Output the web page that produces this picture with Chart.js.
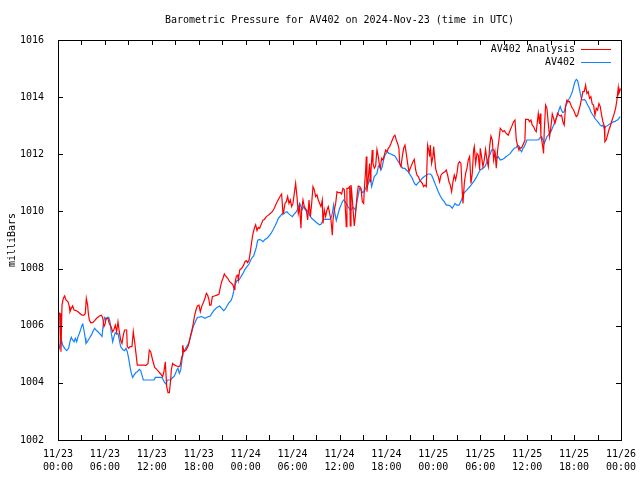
<!DOCTYPE html>
<html>
<head>
<meta charset="utf-8">
<title>Barometric Pressure AV402</title>
<script src="https://cdn.jsdelivr.net/npm/chart.js@4/dist/chart.umd.min.js"></script>
<style>
  html, body { margin: 0; padding: 0; background: #fff; }
  canvas { display: block; }
</style>
</head>
<body>
<canvas id="pressureChart" width="640" height="480"></canvas>
<script>
// ---- Data (hours since 11/23 00:00 UTC, pressure in mb) ----
const chartTitle = 'Barometric Pressure for AV402 on 2024-Nov-23 (time in UTC)';
const tickDates = ['11/23', '11/23', '11/23', '11/23', '11/24', '11/24', '11/24', '11/24', '11/25', '11/25', '11/25', '11/25', '11/26'];
const tickTimes = ['00:00', '06:00', '12:00', '18:00', '00:00', '06:00', '12:00', '18:00', '00:00', '06:00', '12:00', '18:00', '00:00'];

const analysisHours = [
  0.00, 0.10, 0.26, 0.38, 0.51, 0.68, 0.85, 1.02, 1.28, 1.45, 1.53, 1.70, 1.87, 2.05, 2.30, 2.56, 2.81, 3.07, 3.32, 3.49,
  3.62, 3.79, 3.88, 4.01, 4.18, 4.43, 4.69, 4.94, 5.29, 5.54, 5.71, 5.88, 6.05, 6.14, 6.39, 6.56, 6.78, 6.99, 7.16, 7.33,
  7.50, 7.67, 7.84, 8.01, 8.18, 8.35, 8.52, 8.78, 8.86, 9.04, 9.21, 9.46, 9.63, 9.80, 9.97, 10.14, 10.66, 10.91, 11.25, 11.51,
  11.68, 11.85, 12.10, 12.36, 12.62, 12.87, 13.13, 13.38, 13.55, 13.72, 13.90, 14.07, 14.24, 14.41, 14.49, 14.66, 14.92, 15.17, 15.43, 15.60,
  15.86, 15.94, 16.11, 16.37, 16.62, 16.79, 16.96, 17.13, 17.30, 17.48, 17.65, 17.82, 18.03, 18.20, 18.37, 18.63, 18.80, 18.97, 19.14, 19.31,
  19.40, 19.57, 19.74, 19.99, 20.33, 20.59, 20.76, 20.93, 21.10, 21.27, 21.44, 21.70, 21.95, 22.21, 22.38, 22.55, 22.63, 22.81, 22.98, 23.06,
  23.23, 23.49, 23.74, 23.91, 24.08, 24.25, 24.43, 24.60, 24.77, 24.94, 25.11, 25.28, 25.45, 25.62, 25.79, 25.96, 26.22, 26.39, 26.64, 26.90,
  27.15, 27.41, 27.66, 27.92, 28.18, 28.43, 28.60, 28.77, 28.86, 29.03, 29.20, 29.37, 29.54, 29.71, 29.88, 30.05, 30.22, 30.39, 30.56, 30.73,
  30.90, 31.07, 31.16, 31.33, 31.50, 31.76, 31.93, 32.10, 32.27, 32.44, 32.61, 32.78, 32.95, 33.12, 33.29, 33.46, 33.63, 33.80, 33.89, 34.06,
  34.23, 34.40, 34.57, 34.74, 34.91, 35.08, 35.17, 35.34, 35.51, 35.68, 35.85, 36.10, 36.27, 36.44, 36.61, 36.78, 36.87, 36.95, 37.12, 37.30,
  37.38, 37.47, 37.55, 37.72, 37.89, 38.06, 38.23, 38.40, 38.57, 38.74, 38.92, 39.09, 39.17, 39.34, 39.43, 39.51, 39.68, 39.85, 39.94, 40.02,
  40.19, 40.28, 40.45, 40.62, 40.79, 40.96, 41.13, 41.22, 41.39, 41.56, 41.73, 41.90, 42.07, 42.24, 42.41, 42.58, 42.75, 42.92, 43.09, 43.26,
  43.43, 43.60, 43.69, 43.86, 44.03, 44.20, 44.37, 44.54, 44.71, 44.88, 45.05, 45.22, 45.39, 45.56, 45.74, 45.91, 46.08, 46.25, 46.42, 46.59,
  46.76, 46.93, 47.10, 47.27, 47.44, 47.53, 47.61, 47.78, 47.95, 48.04, 48.12, 48.29, 48.46, 48.63, 48.80, 48.97, 49.15, 49.32, 49.49, 49.66,
  49.83, 50.00, 50.17, 50.34, 50.51, 50.68, 50.85, 51.02, 51.19, 51.36, 51.53, 51.70, 51.79, 51.96, 52.13, 52.30, 52.47, 52.64, 52.81, 52.98,
  53.15, 53.24, 53.41, 53.58, 53.75, 53.92, 54.00, 54.17, 54.34, 54.51, 54.68, 54.85, 55.03, 55.20, 55.37, 55.54, 55.71, 55.88, 56.05, 56.22,
  56.39, 56.56, 56.73, 56.90, 57.07, 57.24, 57.41, 57.58, 57.75, 57.92, 58.09, 58.26, 58.44, 58.61, 58.78, 58.95, 59.03, 59.20, 59.37, 59.54,
  59.71, 59.80, 59.97, 60.14, 60.31, 60.48, 60.65, 60.82, 60.99, 61.16, 61.33, 61.42, 61.59, 61.67, 61.76, 61.93, 62.10, 62.19, 62.36, 62.53,
  62.70, 62.87, 63.04, 63.21, 63.38, 63.55, 63.72, 63.89, 64.06, 64.23, 64.40, 64.57, 64.74, 64.91, 65.08, 65.26, 65.43, 65.60, 65.77, 65.94,
  66.11, 66.28, 66.45, 66.62, 66.79, 66.96, 67.13, 67.30, 67.47, 67.64, 67.81, 67.98, 68.15, 68.32, 68.49, 68.67, 68.84, 69.01, 69.18, 69.35,
  69.52, 69.69, 69.86, 69.94, 70.11, 70.28, 70.45, 70.62, 70.79, 70.97, 71.14, 71.31, 71.48, 71.65, 71.73, 71.95
];
const analysisMb = [
  1005.20, 1006.45, 1006.43, 1005.09, 1006.72, 1006.96, 1007.04, 1006.90, 1006.84, 1006.67, 1006.49, 1006.61, 1006.69, 1006.55, 1006.53, 1006.49, 1006.43, 1006.37, 1006.37, 1006.43,
  1006.96, 1006.72, 1006.43, 1006.20, 1006.11, 1006.11, 1006.18, 1006.26, 1006.34, 1006.37, 1006.29, 1005.97, 1006.08, 1006.26, 1006.26, 1006.08, 1005.97, 1005.79, 1005.87, 1006.02,
  1005.79, 1006.14, 1005.79, 1005.50, 1005.38, 1005.67, 1005.85, 1005.85, 1005.27, 1005.21, 1005.27, 1005.27, 1005.79, 1005.44, 1005.03, 1004.62, 1004.62, 1004.62, 1004.61, 1004.68,
  1005.15, 1005.09, 1004.80, 1004.54, 1004.47, 1004.39, 1004.31, 1004.22, 1004.39, 1004.74, 1003.87, 1003.66, 1003.66, 1004.10, 1004.45, 1004.68, 1004.62, 1004.59, 1004.57, 1004.59,
  1004.94, 1005.32, 1005.09, 1005.15, 1005.27, 1005.44, 1005.67, 1005.85, 1006.08, 1006.37, 1006.55, 1006.69, 1006.72, 1006.49, 1006.67, 1006.84, 1006.96, 1007.13, 1007.07, 1006.90,
  1006.72, 1006.72, 1007.02, 1007.04, 1007.07, 1007.11, 1007.34, 1007.54, 1007.66, 1007.81, 1007.74, 1007.66, 1007.54, 1007.48, 1007.42, 1007.27, 1007.48, 1007.74, 1007.77, 1007.60,
  1007.95, 1008.01, 1008.12, 1008.24, 1008.28, 1008.21, 1008.30, 1008.59, 1008.94, 1009.23, 1009.41, 1009.53, 1009.33, 1009.44, 1009.41, 1009.53, 1009.70, 1009.72, 1009.82, 1009.87,
  1009.93, 1009.99, 1010.11, 1010.28, 1010.42, 1010.54, 1010.61, 1009.93, 1009.99, 1010.28, 1010.34, 1010.52, 1010.28, 1010.40, 1010.17, 1010.28, 1010.63, 1010.98, 1010.52, 1009.93,
  1010.17, 1009.41, 1010.05, 1010.40, 1010.17, 1010.05, 1009.70, 1010.40, 1009.82, 1010.28, 1010.87, 1010.75, 1010.52, 1010.58, 1010.40, 1010.28, 1010.17, 1010.40, 1009.58, 1010.05,
  1009.82, 1010.05, 1010.17, 1009.93, 1009.70, 1009.17, 1009.70, 1010.05, 1010.28, 1010.69, 1010.66, 1010.66, 1010.61, 1010.81, 1010.77, 1009.93, 1009.47, 1010.81, 1010.81, 1010.87,
  1009.49, 1010.92, 1010.75, 1010.11, 1009.49, 1009.93, 1010.52, 1010.89, 1010.87, 1010.81, 1010.34, 1010.28, 1010.75, 1011.45, 1011.92, 1010.69, 1011.16, 1011.68, 1011.04, 1011.39,
  1012.15, 1011.68, 1011.51, 1011.59, 1012.17, 1011.92, 1011.57, 1011.51, 1011.86, 1011.80, 1011.97, 1012.15, 1012.09, 1012.21, 1012.27, 1012.38, 1012.50, 1012.62, 1012.67, 1012.50,
  1012.38, 1012.21, 1011.68, 1011.57, 1011.92, 1012.21, 1012.32, 1012.03, 1011.68, 1011.39, 1011.51, 1011.62, 1011.74, 1011.82, 1011.45, 1011.27, 1011.22, 1011.10, 1011.04, 1010.98,
  1010.87, 1010.92, 1010.87, 1012.32, 1012.09, 1011.92, 1012.32, 1011.68, 1011.92, 1012.27, 1012.03, 1011.51, 1011.33, 1011.22, 1011.04, 1011.27, 1011.33, 1011.36, 1011.39, 1011.45,
  1011.27, 1011.04, 1010.92, 1010.69, 1011.04, 1011.27, 1011.10, 1011.33, 1011.68, 1011.74, 1011.68, 1010.69, 1010.28, 1010.98, 1011.33, 1011.51, 1011.80, 1011.92, 1010.98, 1011.33,
  1012.15, 1012.27, 1011.68, 1012.03, 1011.97, 1011.45, 1012.21, 1011.92, 1011.57, 1011.80, 1012.17, 1011.80, 1011.57, 1012.27, 1012.64, 1012.50, 1011.80, 1012.09, 1011.51, 1012.15,
  1012.50, 1012.91, 1012.85, 1012.79, 1012.83, 1012.76, 1012.71, 1012.67, 1012.79, 1012.91, 1013.02, 1013.14, 1013.20, 1012.50, 1012.29, 1012.15, 1012.24, 1012.21, 1012.27, 1012.38,
  1012.48, 1013.22, 1013.22, 1013.22, 1013.14, 1013.20, 1013.02, 1012.97, 1012.85, 1012.79, 1013.20, 1013.43, 1013.06, 1013.43, 1012.64, 1012.38, 1012.03, 1012.85, 1013.72, 1013.61,
  1013.08, 1012.62, 1012.97, 1013.41, 1013.26, 1013.08, 1013.26, 1013.43, 1013.37, 1013.34, 1013.37, 1013.14, 1013.02, 1013.67, 1013.90, 1013.84, 1013.84, 1013.72, 1013.61, 1013.55,
  1013.43, 1013.32, 1013.37, 1013.55, 1013.72, 1013.96, 1014.19, 1014.19, 1014.42, 1014.13, 1014.19, 1013.96, 1014.02, 1013.76, 1013.72, 1013.37, 1013.61, 1013.55, 1013.78, 1013.67,
  1013.37, 1013.14, 1012.99, 1012.44, 1012.50, 1012.67, 1012.85, 1012.97, 1013.14, 1013.29, 1013.43, 1013.61, 1013.90, 1014.34, 1014.13, 1014.30
];

const stationHours = [
  0.00, 0.08, 0.26, 0.43, 0.60, 0.85, 1.11, 1.36, 1.53, 1.70, 1.87, 2.05, 2.22, 2.39, 2.56, 2.73, 2.90, 3.07, 3.15, 3.32,
  3.49, 3.58, 3.75, 4.01, 4.26, 4.52, 4.69, 4.86, 5.11, 5.37, 5.63, 5.80, 5.97, 6.14, 6.31, 6.48, 6.65, 6.82, 6.99, 7.16,
  7.33, 7.50, 7.67, 7.84, 8.01, 8.27, 8.52, 8.70, 8.86, 9.04, 9.21, 9.38, 9.55, 9.72, 9.97, 10.14, 10.40, 10.57, 10.74, 10.91,
  12.28, 12.45, 13.30, 13.47, 13.64, 13.81, 13.98, 14.41, 14.58, 14.83, 15.00, 15.17, 15.34, 15.51, 15.69, 15.86, 16.03, 16.20, 16.45, 16.71,
  16.96, 17.13, 17.30, 17.56, 17.82, 18.37, 18.80, 19.23, 19.48, 19.74, 19.99, 20.33, 20.67, 20.93, 21.19, 21.36, 21.61, 21.87, 22.12, 22.29,
  22.46, 22.55, 22.72, 22.89, 23.15, 23.40, 23.66, 23.91, 24.17, 24.43, 24.68, 24.85, 25.02, 25.19, 25.36, 25.53, 25.70, 25.96, 26.22, 26.47,
  26.73, 26.98, 27.24, 27.49, 27.75, 28.01, 28.18, 28.43, 28.69, 28.86, 29.03, 29.28, 29.45, 29.71, 29.97, 30.22, 30.48, 30.73, 30.90, 31.07,
  31.25, 31.42, 31.59, 31.84, 32.01, 32.18, 32.44, 32.69, 32.95, 33.21, 33.46, 33.63, 33.80, 33.97, 34.74, 34.91, 35.08, 35.25, 35.42, 35.59,
  35.85, 36.02, 36.19, 36.36, 36.53, 36.70, 36.87, 37.04, 37.21, 37.38, 37.55, 37.72, 37.89, 38.06, 38.23, 38.40, 38.57, 38.74, 38.92, 39.09,
  39.26, 39.43, 39.60, 39.77, 39.94, 40.11, 40.28, 40.45, 40.62, 40.79, 40.96, 41.13, 41.30, 41.47, 41.64, 41.81, 41.98, 42.15, 42.33, 42.58,
  42.84, 43.09, 43.35, 43.52, 43.69, 43.86, 44.12, 44.37, 44.54, 44.80, 45.05, 45.31, 45.48, 45.65, 45.82, 46.08, 46.33, 46.59, 46.84, 47.10,
  47.36, 47.61, 47.78, 47.95, 48.12, 48.29, 48.46, 48.63, 48.89, 49.15, 49.40, 49.66, 49.91, 50.17, 50.42, 50.59, 50.77, 51.02, 51.28, 51.45,
  51.62, 51.79, 51.96, 52.21, 52.47, 52.73, 52.98, 53.24, 53.49, 53.75, 54.00, 54.30, 54.60, 54.77, 54.94, 55.11, 55.28, 55.45, 55.62, 55.79,
  55.96, 56.13, 56.30, 56.56, 56.82, 57.07, 57.33, 57.58, 57.84, 58.09, 58.35, 58.61, 58.78, 58.95, 59.12, 59.29, 59.46, 59.63, 59.80, 59.97,
  60.57, 60.99, 61.33, 61.50, 61.67, 61.85, 62.02, 62.19, 62.36, 62.53, 62.70, 62.87, 63.04, 63.21, 63.38, 63.55, 63.72, 63.89, 64.06, 64.23,
  64.40, 64.57, 64.74, 64.91, 65.08, 65.26, 65.43, 65.60, 65.77, 65.94, 66.11, 66.28, 66.45, 66.62, 66.79, 66.96, 67.13, 67.30, 67.47, 67.64,
  67.81, 67.98, 68.15, 68.32, 68.49, 68.67, 68.84, 69.01, 69.18, 69.35, 69.52, 69.69, 69.86, 70.03, 70.20, 70.37, 70.54, 70.71, 70.88, 71.05,
  71.22, 71.39, 71.56, 71.73, 71.90
];
const stationMb = [
  1005.30, 1005.15, 1005.32, 1005.50, 1005.32, 1005.21, 1005.13, 1005.21, 1005.44, 1005.59, 1005.50, 1005.44, 1005.56, 1005.44, 1005.62, 1005.73, 1005.87, 1006.02, 1006.08, 1005.85,
  1005.56, 1005.38, 1005.44, 1005.56, 1005.67, 1005.83, 1005.91, 1005.85, 1005.79, 1005.71, 1005.62, 1006.08, 1006.29, 1006.22, 1006.29, 1006.29, 1006.14, 1005.73, 1005.44, 1005.62,
  1005.76, 1005.71, 1005.73, 1005.50, 1005.27, 1005.17, 1005.13, 1005.21, 1005.09, 1004.86, 1004.57, 1004.33, 1004.19, 1004.27, 1004.36, 1004.39, 1004.47, 1004.43, 1004.27, 1004.10,
  1004.10, 1004.19, 1004.19, 1004.10, 1004.01, 1003.96, 1004.10, 1004.10, 1004.16, 1004.22, 1004.31, 1004.43, 1004.51, 1004.33, 1004.45, 1004.80, 1005.09, 1005.15, 1005.27, 1005.38,
  1005.62, 1005.79, 1005.97, 1006.14, 1006.29, 1006.32, 1006.26, 1006.32, 1006.34, 1006.46, 1006.55, 1006.64, 1006.69, 1006.61, 1006.53, 1006.57, 1006.69, 1006.81, 1006.88, 1006.99,
  1007.19, 1007.34, 1007.48, 1007.58, 1007.60, 1007.72, 1007.83, 1007.97, 1008.07, 1008.16, 1008.32, 1008.39, 1008.44, 1008.59, 1008.74, 1008.98, 1009.02, 1009.00, 1008.94, 1009.02,
  1009.06, 1009.14, 1009.23, 1009.35, 1009.49, 1009.64, 1009.76, 1009.84, 1009.93, 1009.91, 1009.96, 1009.99, 1009.93, 1009.87, 1009.82, 1009.91, 1009.99, 1010.14, 1010.28, 1010.17,
  1010.07, 1010.17, 1010.07, 1009.99, 1010.05, 1009.87, 1009.76, 1009.70, 1009.64, 1009.58, 1009.53, 1009.55, 1009.64, 1009.72, 1009.72, 1009.76, 1009.93, 1010.23, 1009.93, 1009.68,
  1009.95, 1010.11, 1010.22, 1010.34, 1010.40, 1010.34, 1010.28, 1010.19, 1010.11, 1010.05, 1010.07, 1010.14, 1010.11, 1010.03, 1010.34, 1010.57, 1010.81, 1010.77, 1010.66, 1010.69,
  1010.75, 1010.87, 1010.92, 1011.04, 1011.16, 1010.87, 1011.04, 1011.22, 1011.27, 1011.33, 1011.57, 1011.62, 1011.45, 1011.57, 1011.80, 1011.97, 1012.03, 1012.09, 1012.03, 1012.01,
  1011.97, 1011.94, 1011.82, 1011.74, 1011.68, 1011.59, 1011.51, 1011.51, 1011.45, 1011.39, 1011.27, 1011.16, 1011.04, 1010.96, 1010.92, 1011.01, 1011.08, 1011.16, 1011.22, 1011.27,
  1011.31, 1011.31, 1011.27, 1011.16, 1011.04, 1010.92, 1010.81, 1010.69, 1010.54, 1010.42, 1010.34, 1010.22, 1010.22, 1010.19, 1010.11, 1010.19, 1010.28, 1010.22, 1010.22, 1010.31,
  1010.42, 1010.57, 1010.66, 1010.73, 1010.81, 1010.89, 1010.98, 1011.08, 1011.19, 1011.33, 1011.45, 1011.50, 1011.57, 1011.68, 1011.80, 1011.92, 1012.01, 1012.15, 1012.17, 1012.13,
  1011.97, 1011.86, 1011.92, 1011.80, 1011.82, 1011.86, 1011.92, 1011.97, 1012.03, 1012.13, 1012.21, 1012.24, 1012.32, 1012.29, 1012.15, 1012.09, 1012.21, 1012.27, 1012.38, 1012.50,
  1012.50, 1012.50, 1012.50, 1012.52, 1012.59, 1012.62, 1012.50, 1012.38, 1012.50, 1012.62, 1012.67, 1012.73, 1012.79, 1012.91, 1013.02, 1013.14, 1013.26, 1013.37, 1013.55, 1013.67,
  1013.53, 1013.46, 1013.49, 1013.67, 1013.78, 1013.90, 1013.96, 1014.07, 1014.19, 1014.37, 1014.54, 1014.62, 1014.58, 1014.37, 1014.13, 1013.92, 1013.90, 1013.92, 1013.88, 1013.78,
  1013.69, 1013.61, 1013.49, 1013.41, 1013.34, 1013.26, 1013.20, 1013.14, 1013.08, 1013.02, 1012.99, 1013.02, 1012.91, 1012.97, 1012.99, 1013.02, 1013.06, 1013.08, 1013.11, 1013.14,
  1013.14, 1013.18, 1013.20, 1013.26, 1013.32
];

const FONT = "'DejaVu Sans Mono', 'Liberation Mono', monospace";
Chart.defaults.font.family = FONT;
Chart.defaults.font.size = 10;
Chart.defaults.color = '#000';

function toPoints(xs, ys) {
  return xs.map((x, i) => ({ x, y: ys[i] }));
}

// ---- Frame, inside ticks, title and gnuplot-style legend ----
const framePlugin = {
  id: 'frame',
  afterDraw(chart) {
    const { ctx, chartArea: a, scales: { x, y } } = chart;
    ctx.save();
    ctx.strokeStyle = '#000';
    ctx.lineWidth = 1;
    ctx.strokeRect(Math.round(a.left) + 0.5, Math.round(a.top) + 0.5,
      Math.round(a.right - a.left), Math.round(a.bottom - a.top));

    ctx.beginPath();
    for (let h = 3; h < 72; h += 3) {
      const px = Math.round(x.getPixelForValue(h)) + 0.5;
      ctx.moveTo(px, a.bottom); ctx.lineTo(px, a.bottom - 5);
      ctx.moveTo(px, a.top); ctx.lineTo(px, a.top + 5);
    }
    for (let v = 1004; v < 1016; v += 2) {
      const py = Math.round(y.getPixelForValue(v)) + 0.5;
      ctx.moveTo(a.left, py); ctx.lineTo(a.left + 5, py);
      ctx.moveTo(a.right, py); ctx.lineTo(a.right - 5, py);
    }
    ctx.stroke();

    ctx.fillStyle = '#000';
    ctx.font = '10px ' + FONT;
    ctx.textAlign = 'center';
    ctx.textBaseline = 'middle';
    ctx.fillText(chartTitle, (a.left + a.right) / 2, 20);

    ctx.textAlign = 'right';
    chart.data.datasets.forEach((ds, i) => {
      const ly = 49 + i * 13;
      ctx.fillText(ds.label, a.right - 46, ly);
      ctx.strokeStyle = ds.borderColor;
      ctx.beginPath();
      ctx.moveTo(a.right - 40, ly + 0.5);
      ctx.lineTo(a.right - 10, ly + 0.5);
      ctx.stroke();
    });
    ctx.restore();
  }
};

new Chart(document.getElementById('pressureChart'), {
  type: 'line',
  data: {
    datasets: [
      { label: 'AV402 Analysis', data: toPoints(analysisHours, analysisMb), borderColor: '#ff0000', borderWidth: 1.2, pointRadius: 0, tension: 0 },
      { label: 'AV402', data: toPoints(stationHours, stationMb), borderColor: '#1482ff', borderWidth: 1.2, pointRadius: 0, tension: 0 }
    ]
  },
  options: {
    responsive: false,
    animation: false,
    layout: { padding: { left: 0, right: 19, top: 40, bottom: 0 } },
    plugins: { legend: { display: false }, title: { display: false }, tooltip: { enabled: false } },
    scales: {
      x: {
        type: 'linear', min: 0, max: 72,
        grid: { display: false }, border: { display: false },
        ticks: {
          stepSize: 6, autoSkip: false, maxRotation: 0, padding: 0,
          font: { size: 10, lineHeight: 1.3 },
          callback: v => [tickDates[v / 6], tickTimes[v / 6]]
        },
        afterFit: s => { s.height = 40; }
      },
      y: {
        min: 1002, max: 1016,
        grid: { display: false }, border: { display: false },
        ticks: { stepSize: 2, padding: 6, callback: v => String(v) },
        title: { display: true, text: 'milliBars', padding: { top: 6, bottom: 0 } },
        afterFit: s => { s.width = 58; }
      }
    }
  },
  plugins: [framePlugin]
});
</script>
</body>
</html>
